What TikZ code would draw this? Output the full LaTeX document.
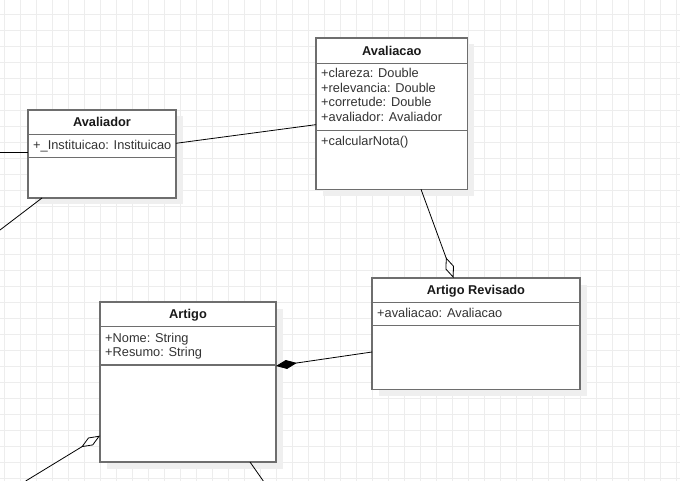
\documentclass[tikz,border=0pt]{standalone}
\usepackage{fontspec}
\setmainfont{Liberation Sans}
\usetikzlibrary{arrows.meta,shadows}
\definecolor{gridc}{HTML}{EDEDED}
\definecolor{boxc}{HTML}{6E6E6E}
\definecolor{shadc}{HTML}{EFEFEF}
\definecolor{txtc}{HTML}{333333}
\begin{document}
\begin{tikzpicture}[x=1pt,y=-1pt,
  font=\fontsize{12.8}{14.6}\selectfont,
  gridline/.style={draw=gridc, line width=0.9pt},
  classbox/.style={draw=boxc, line width=1.2pt, fill=white, inner sep=0pt, outer sep=0pt,
    anchor=north west,
    drop shadow={shadow xshift=6.5pt, shadow yshift=-6.5pt, fill=shadc, opacity=1}},
  divider/.style={draw=boxc, line width=1.2pt},
  ctitle/.style={font=\fontsize{12.8}{14.6}\selectfont\bfseries, anchor=base, inner sep=0pt, text=black!90},
  cattr/.style={anchor=base west, inner sep=0pt, text=txtc},
  assoc/.style={draw=black, line width=0.8pt},
  aggr/.style={assoc, -{Diamond[open, length=22pt, width=9pt]}},
  comp/.style={assoc, -{Diamond[length=21pt, width=9pt]}}
]
\useasboundingbox (0,0) rectangle (680,481);
\clip (0,0) rectangle (680,481);
\fill[white] (0,0) rectangle (680,481);
\foreach \gx in {4,20,...,676} \draw[gridline] (\gx,0) -- (\gx,481);
\foreach \gy in {14,30,...,478} \draw[gridline] (0,\gy) -- (680,\gy);

% Avaliador
\node[classbox, minimum width=148pt, minimum height=88pt] (avaliador) at (28,110) {};
\draw[divider] (avaliador.west |- 0,134.7) -- (avaliador.east |- 0,134.7);
\draw[divider] (avaliador.west |- 0,157.7) -- (avaliador.east |- 0,157.7);
\node[ctitle] (avaliadorT) at (102,126.7) {Avaliador};
\node[cattr] (avaliadorA1) at (33,150) {+\_Instituicao: Instituicao};

% Avaliacao
\node[classbox, minimum width=151.7pt, minimum height=151.3pt] (avaliacao) at (316,38) {};
\draw[divider] (avaliacao.west |- 0,63.3) -- (avaliacao.east |- 0,63.3);
\draw[divider] (avaliacao.west |- 0,130.7) -- (avaliacao.east |- 0,130.7);
\node[ctitle] (avaliacaoT) at (391.85,55.7) {Avaliacao};
\node[cattr] (avaliacaoA1) at (321,77.7) {+clareza: Double};
\node[cattr] (avaliacaoA2) at (321,92.3) {+relevancia: Double};
\node[cattr] (avaliacaoA3) at (321,106.9) {+corretude: Double};
\node[cattr] (avaliacaoA4) at (321,121.5) {+avaliador: Avaliador};
\node[cattr] (avaliacaoM1) at (321,145.1) {+calcularNota()};

% Artigo Revisado
\node[classbox, minimum width=208pt, minimum height=111.7pt] (artigorev) at (372,278) {};
\draw[divider] (artigorev.west |- 0,302.7) -- (artigorev.east |- 0,302.7);
\draw[divider] (artigorev.west |- 0,325.7) -- (artigorev.east |- 0,325.7);
\node[ctitle] (artigorevT) at (476,294.5) {Artigo Revisado};
\node[cattr] (artigorevA1) at (377,317.5) {+avaliacao: Avaliacao};

% Artigo
\node[classbox, minimum width=176pt, minimum height=160pt] (artigo) at (100,302) {};
\draw[divider] (artigo.west |- 0,326.7) -- (artigo.east |- 0,326.7);
\draw[divider] (artigo.west |- 0,365) -- (artigo.east |- 0,365);
\node[ctitle] (artigoT) at (188,318.7) {Artigo};
\node[cattr] (artigoA1) at (105,342.2) {+Nome: String};
\node[cattr] (artigoA2) at (105,356.8) {+Resumo: String};

% connectors
\coordinate (l1) at (0,152);
\coordinate (l2) at (0,230);
\coordinate (l6) at (25.7,481);
\coordinate (l7) at (263.3,481);
\draw[assoc] (l1) -- ([yshift=2pt]avaliador.west);
\draw[assoc] ([xshift=-60pt]avaliador.south) -- (l2);
\draw[assoc] ([yshift=10.7pt]avaliador.east) -- ([yshift=-11pt]avaliacao.west);
\draw[aggr] ([xshift=29.15pt]avaliacao.south) -- ([xshift=-22.5pt]artigorev.north);
\draw[comp] ([yshift=-18.15pt]artigorev.west) -- ([yshift=16pt]artigo.east);
\draw[aggr] (l6) -- ([yshift=-53.7pt]artigo.west);
\draw[assoc] ([xshift=62pt]artigo.south) -- (l7);
\end{tikzpicture}
\end{document}
